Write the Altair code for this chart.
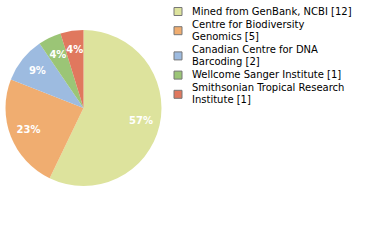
import altair as alt
import pandas as pd

names = [
    "Mined from GenBank, NCBI [12]",
    "Centre for Biodiversity|Genomics [5]",
    "Canadian Centre for DNA|Barcoding [2]",
    "Wellcome Sanger Institute [1]",
    "Smithsonian Tropical Research|Institute [1]",
]
counts = [12, 5, 2, 1, 1]
pct_labels = ["57%", "23%", "9%", "4%", "4%"]
colors = ["#dde39d", "#f0ad70", "#9dbbe0", "#9bc576", "#e0785e"]

df = pd.DataFrame({
    "name": names,
    "count": counts,
    "pct": pct_labels,
    "idx": list(range(len(names))),
})

# legend layout rows (in line units, derived from the number of lines per entry)
GAP = 0.1
line_rows, entry_rows = [], []
cum = 0
for k, nm in enumerate(names):
    parts = nm.split("|")
    poss = []
    for j, p in enumerate(parts):
        pos = cum + j + k * GAP
        poss.append(pos)
        line_rows.append({"name": nm, "line": p, "pos": pos})
    entry_rows.append({"name": nm, "pos": sum(poss) / len(poss)})
    cum += len(parts)
lines_df = pd.DataFrame(line_rows)
entries_df = pd.DataFrame(entry_rows)

color_scale = alt.Scale(domain=names, range=colors)
y_scale = alt.Scale(domain=[0, 20], range=[11.5, 251.5])

base = alt.Chart(df).encode(
    theta=alt.Theta("count:Q", stack=True),
    order=alt.Order("idx:O"),
)

arcs = base.mark_arc(outerRadius=78).encode(
    x=alt.value(83.5),
    y=alt.value(108),
    color=alt.Color("name:N", scale=color_scale, legend=None),
)

texts = base.mark_text(
    radius=59, color="white", font="DejaVu Sans", fontSize=10, fontWeight="bold"
).encode(
    x=alt.value(83.5),
    y=alt.value(108),
    text="pct:N",
)

swatches = alt.Chart(entries_df).mark_square(
    size=64, stroke="#777777", strokeWidth=1, opacity=1
).encode(
    x=alt.value(178),
    y=alt.Y("pos:Q", scale=y_scale, axis=None),
    color=alt.Color("name:N", scale=color_scale, legend=None),
)

legend_text = alt.Chart(lines_df).mark_text(
    align="left", baseline="middle", font="DejaVu Sans", fontSize=10, color="#000000"
).encode(
    x=alt.value(192),
    y=alt.Y("pos:Q", scale=y_scale, axis=None),
    text="line:N",
)

chart = alt.layer(arcs, texts, swatches, legend_text).resolve_scale(
    y="shared"
).properties(
    width=380, height=240, padding=0, autosize=alt.AutoSizeParams(type="none")
).configure_view(stroke=None)

chart.save("out.html", embed_options={"renderer": "svg", "actions": False})
